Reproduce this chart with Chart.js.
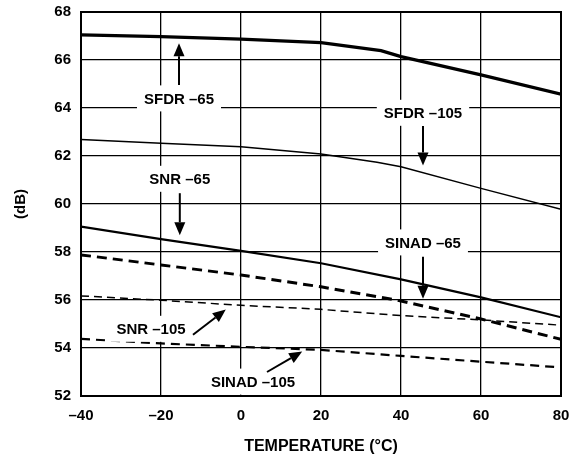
<!DOCTYPE html>
<html>
<head>
<meta charset="utf-8">
<script src="https://cdn.jsdelivr.net/npm/chart.js@4.4.0/dist/chart.umd.min.js"></script>
<style>
  html, body { margin: 0; padding: 0; background: #fff; }
  #wrap { width: 577px; height: 459px; }
</style>
</head>
<body>
<div id="wrap"><canvas id="chart" width="577" height="459"></canvas></div>
<script>
const sfdr65Temps = [-40, -20, 0, 20, 35, 40, 60, 80];
const sfdr65 = [67.05, 66.97, 66.87, 66.72, 66.39, 66.14, 65.38, 64.58];

const sfdr105Temps = [-40, -20, 0, 20, 34, 40, 60, 80];
const sfdr105 = [62.69, 62.53, 62.39, 62.08, 61.74, 61.55, 60.65, 59.78];

const snr65Temps = [-40, -20, 0, 20, 40, 60, 80];
const snr65 = [59.06, 58.54, 58.05, 57.53, 56.86, 56.11, 55.28];

const sinad65Temps = [-40, -20, 0, 20, 40, 60, 80];
const sinad65 = [57.88, 57.46, 57.04, 56.55, 55.96, 55.21, 54.36];

const snr105Temps = [-40, -20, 0, 20, 40, 60, 80];
const snr105 = [56.17, 55.99, 55.78, 55.61, 55.35, 55.17, 54.95];

const sinad105Temps = [-40, -20, 0, 20, 40, 60, 80];
const sinad105 = [54.38, 54.19, 54.05, 53.92, 53.67, 53.43, 53.19];

const xTicks = [-40, -20, 0, 20, 40, 60, 80];
const yTicks = [52, 54, 56, 58, 60, 62, 64, 66, 68];

// Callout labels: text position and arrow (tail -> head), in data units
const callouts = [
    { text: 'SFDR \u201365', at: [-15.5, 64.4], from: [-15.5, 64.96], to: [-15.5, 66.7] },
    { text: 'SFDR \u2013105', at: [45.5, 63.8], from: [45.5, 63.25], to: [45.5, 61.6] },
    { text: 'SNR \u201365', at: [-15.3, 61.05], from: [-15.3, 60.45], to: [-15.3, 58.7] },
    { text: 'SINAD \u201365', at: [45.5, 58.4], from: [45.5, 57.8], to: [45.5, 56.05] },
    { text: 'SNR \u2013105', at: [-22.5, 54.8], from: [-12, 54.55], to: [-3.8, 55.6] },
    { text: 'SINAD \u2013105', at: [3, 52.6], from: [6.5, 53.0], to: [15.3, 53.85] }
];

const FONT = '"Liberation Sans", Arial, Helvetica, sans-serif';

function pairs(xs, ys) {
    return xs.map((x, i) => ({ x: x, y: ys[i] }));
}

function lineSet(label, xs, ys, width, dash) {
    return {
        label: label,
        data: pairs(xs, ys),
        borderColor: '#000',
        borderWidth: width,
        borderDash: dash,
        pointRadius: 0,
        tension: 0,
        fill: false
    };
}

// Frame around the plot area
const framePlugin = {
    id: 'frame',
    beforeDatasetsDraw(chart) {
        const a = chart.chartArea;
        const ctx = chart.ctx;
        ctx.save();
        ctx.strokeStyle = '#000';
        ctx.lineWidth = 2;
        ctx.strokeRect(a.left, a.top, a.right - a.left, a.bottom - a.top);
        ctx.restore();
    }
};

function drawArrow(ctx, x1, y1, x2, y2) {
    const ang = Math.atan2(y2 - y1, x2 - x1);
    const headLen = 13, headW = 5.5;
    const bx = x2 - headLen * Math.cos(ang);
    const by = y2 - headLen * Math.sin(ang);
    ctx.beginPath();
    ctx.moveTo(x1, y1);
    ctx.lineTo(bx, by);
    ctx.lineWidth = 2;
    ctx.stroke();
    ctx.beginPath();
    ctx.moveTo(x2, y2);
    ctx.lineTo(bx + headW * Math.sin(ang), by - headW * Math.cos(ang));
    ctx.lineTo(bx - headW * Math.sin(ang), by + headW * Math.cos(ang));
    ctx.closePath();
    ctx.fill();
}

const calloutPlugin = {
    id: 'callouts',
    afterDatasetsDraw(chart) {
        const ctx = chart.ctx;
        const xs = chart.scales.x, ys = chart.scales.y;
        ctx.save();
        ctx.font = 'bold 15px ' + FONT;
        ctx.textAlign = 'center';
        ctx.textBaseline = 'middle';
        callouts.forEach(c => {
            const px = xs.getPixelForValue(c.at[0]);
            const py = ys.getPixelForValue(c.at[1]);
            const w = ctx.measureText(c.text).width + 14;
            ctx.fillStyle = '#fff';
            ctx.fillRect(px - w / 2, py - 13, w, 26);
            ctx.fillStyle = '#000';
            ctx.fillText(c.text, px, py + 1);
            ctx.strokeStyle = '#000';
            drawArrow(ctx,
                xs.getPixelForValue(c.from[0]), ys.getPixelForValue(c.from[1]),
                xs.getPixelForValue(c.to[0]), ys.getPixelForValue(c.to[1]));
        });
        ctx.restore();
    }
};

new Chart(document.getElementById('chart'), {
    type: 'line',
    data: {
        datasets: [
            lineSet('SFDR -65', sfdr65Temps, sfdr65, 3.2, []),
            lineSet('SFDR -105', sfdr105Temps, sfdr105, 1.5, []),
            lineSet('SNR -65', snr65Temps, snr65, 2.2, []),
            lineSet('SINAD -65', sinad65Temps, sinad65, 3, [10, 6]),
            lineSet('SNR -105', snr105Temps, snr105, 1.5, [8, 5]),
            lineSet('SINAD -105', sinad105Temps, sinad105, 2.2, [9, 6])
        ]
    },
    options: {
        responsive: false,
        animation: false,
        layout: {
            padding: { left: 12, right: 16, top: 12, bottom: 3 }
        },
        plugins: {
            legend: { display: false },
            tooltip: { enabled: false }
        },
        scales: {
            x: {
                type: 'linear',
                min: -40,
                max: 80,
                afterBuildTicks(scale) {
                    scale.ticks = xTicks.map(v => ({ value: v }));
                },
                afterFit(scale) {
                    scale.height = 60;
                    scale.paddingLeft = 0;
                    scale.paddingRight = 0;
                },
                ticks: {
                    color: '#000',
                    padding: 11,
                    font: { family: FONT, size: 15, weight: 'bold' },
                    callback: v => (v < 0 ? '\u2013' + Math.abs(v) : '' + v)
                },
                grid: {
                    color: '#000',
                    lineWidth: 1.3,
                    drawTicks: false
                },
                border: { display: false },
                title: {
                    display: true,
                    text: 'TEMPERATURE (\u00B0C)',
                    color: '#000',
                    padding: 0,
                    font: { family: FONT, size: 16, weight: 'bold' }
                }
            },
            y: {
                min: 52,
                max: 68,
                afterBuildTicks(scale) {
                    scale.ticks = yTicks.map(v => ({ value: v }));
                },
                afterFit(scale) {
                    scale.width = 69;
                    scale.paddingTop = 0;
                    scale.paddingBottom = 0;
                },
                ticks: {
                    color: '#000',
                    padding: 10,
                    font: { family: FONT, size: 15, weight: 'bold' }
                },
                grid: {
                    color: '#000',
                    lineWidth: 1.3,
                    drawTicks: false
                },
                border: { display: false },
                title: {
                    display: true,
                    text: '(dB)',
                    color: '#000',
                    padding: 0,
                    font: { family: FONT, size: 15, weight: 'bold' }
                }
            }
        }
    },
    plugins: [framePlugin, calloutPlugin]
});
</script>
</body>
</html>
